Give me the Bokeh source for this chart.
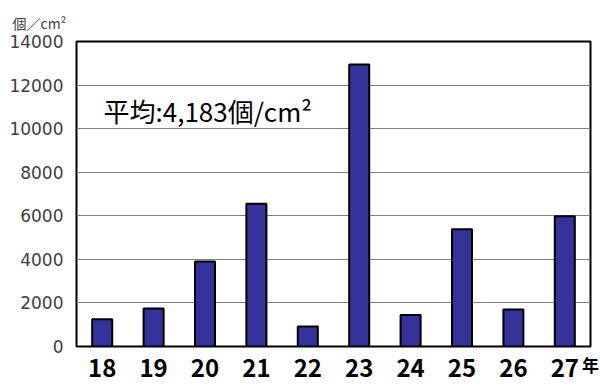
from bokeh.plotting import figure
from bokeh.models import ColumnDataSource, FixedTicker, Label
from bokeh.embed import file_html
from bokeh.resources import INLINE

years = ["18", "19", "20", "21", "22", "23", "24", "25", "26", "27"]
counts = [1250, 1750, 3900, 6550, 920, 12950, 1450, 5380, 1700, 5980]
y_ticks = [0, 2000, 4000, 6000, 8000, 10000, 12000, 14000]
unit_label = "個／cm²"
avg_label = "平均:4,183個/cm²"
year_suffix = "年"

src = ColumnDataSource(dict(year=years, count=counts))

p = figure(x_range=years, y_range=(0, 14000), width=600, height=386,
           output_backend="svg", toolbar_location=None,
           min_border_left=76, min_border_right=10, min_border_top=41, min_border_bottom=40)

p.vbar(x="year", top="count", width=0.39, source=src,
       fill_color="#333399", line_color="black", line_width=2)

p.outline_line_color = "black"
p.outline_line_width = 2
p.outline_line_alpha = 1

p.xgrid.grid_line_color = None
p.ygrid.grid_line_color = "#808080"
p.ygrid.grid_line_width = 1
p.yaxis.ticker = FixedTicker(ticks=y_ticks)

for ax in (p.xaxis, p.yaxis):
    ax.axis_line_color = None
    ax.major_tick_line_color = None
    ax.minor_tick_line_color = None
    ax.major_tick_out = 0
    ax.major_tick_in = 0

p.yaxis.major_label_text_font = "DejaVu Sans"
p.yaxis.major_label_text_font_size = "17px"
p.yaxis.major_label_text_color = "#404040"
p.yaxis.major_label_standoff = 13

p.xaxis.major_label_text_font = "Noto Sans CJK JP"
p.xaxis.major_label_text_font_style = "bold"
p.xaxis.major_label_text_font_size = "24px"
p.xaxis.major_label_text_color = "black"
p.xaxis.major_label_standoff = 12

# unit label as the (left-aligned) title above the frame
p.title.text = unit_label
p.title.align = "left"
p.title.offset = -64
p.title.standoff = 18
p.title.text_font = "Noto Sans CJK JP"
p.title.text_font_size = "14px"
p.title.text_font_style = "normal"
p.title.text_color = "#404040"

# "年" suffix via the x axis label, pulled up beside the tick labels
xa = p.xaxis[0]
xa.axis_label = year_suffix
xa.axis_label_text_font = "Noto Sans CJK JP"
xa.axis_label_text_font_style = "bold"
xa.axis_label_text_font_size = "17px"
xa.axis_label_text_color = "black"
xa.axis_label_standoff = -28
try:
    xa.axis_label_align = "end"
except Exception:
    pass

p.add_layout(Label(x=27, y=236, x_units="screen", y_units="screen", text=avg_label,
                   text_font="Noto Sans CJK JP", text_font_size="26px",
                   text_color="black", text_baseline="middle"))

open("out.html", "w").write(file_html(p, INLINE))
